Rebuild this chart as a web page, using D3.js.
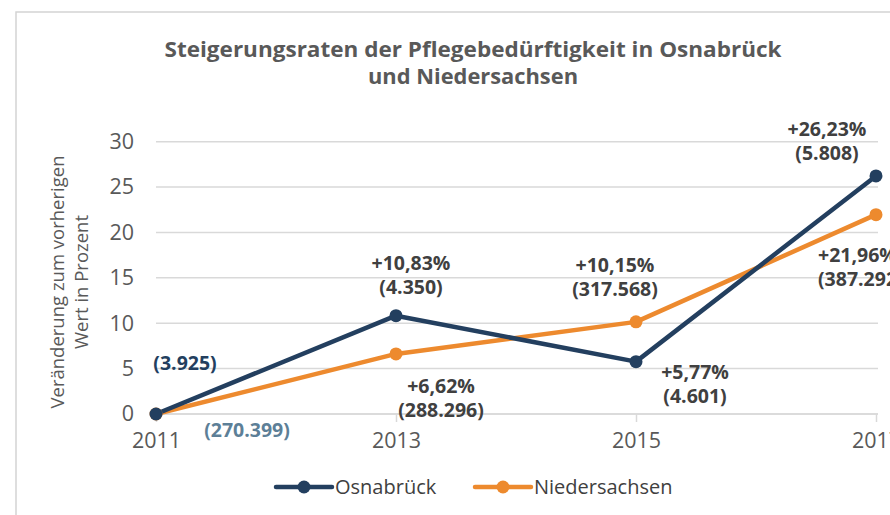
<!DOCTYPE html>
<html>
  <head>
    <title>Steigerungsraten der Pflegebedürftigkeit</title>
    <meta charset="utf-8">
    <style>
      body {
        margin: 0;
        background-color: white;
      }
      .axis text {
        font: 21.5px "Open Sans", sans-serif;
        fill: #595959;
      }
      .axis path,
      .axis line {
        fill: none;
        stroke: #d9d9d9;
        stroke-width: 1.5px;
      }
      .title {
        font: bold 22px "Open Sans", sans-serif;
        fill: #595959;
        text-anchor: middle;
      }
      .yLabel {
        font: 18.5px "Open Sans", sans-serif;
        fill: #595959;
        text-anchor: middle;
      }
      .dataLabel {
        font: bold 19.5px "Open Sans", sans-serif;
        fill: #404040;
      }
      .legendText {
        font: 20px "Open Sans", sans-serif;
        fill: #404040;
      }
    </style>
  </head>
  <body>
  <svg class="graph"></svg>
  <script src="https://d3js.org/d3.v7.min.js"></script>
  <script>
    // data
    var years = ["2011", "2013", "2015", "2017"];
    var osnabrueck = [0, 10.83, 5.77, 26.23];
    var niedersachsen = [0, 6.62, 10.15, 21.96];
    var osnabrueckLabels = [["(3.925)"], ["+10,83%", "(4.350)"], ["+5,77%", "(4.601)"], ["+26,23%", "(5.808)"]];
    var niedersachsenLabels = [["(270.399)"], ["+6,62%", "(288.296)"], ["+10,15%", "(317.568)"], ["+21,96%", "(387.292)"]];
    var yTicks = [0, 5, 10, 15, 20, 25, 30];
    var seriesNames = ["Osnabrück", "Niedersachsen"];

    var colors = {Osnabrück: "#233f5f", Niedersachsen: "#ed8a2e"};

    var width = 890, height = 515;
    var svg = d3.select("svg")
      .attr("width", width)
      .attr("height", height);

    // outer frame
    svg.append("rect")
      .attr("x", 16)
      .attr("y", 12)
      .attr("width", 900)
      .attr("height", 520)
      .attr("fill", "white")
      .attr("stroke", "#d4d4d4")
      .attr("stroke-width", 1.5);

    var x = d3.scalePoint()
      .domain(years)
      .range([156, 876]);

    var y = d3.scaleLinear()
      .domain([0, 30])
      .range([414, 141.7]);

    // gridlines
    svg.append("g")
      .selectAll("line")
      .data(yTicks)
      .enter().append("line")
      .attr("x1", 156)
      .attr("x2", 878)
      .attr("y1", function(d) { return y(d); })
      .attr("y2", function(d) { return y(d); })
      .attr("stroke", "#d9d9d9")
      .attr("stroke-width", 1.5);

    // y axis (labels only)
    var yAxis = d3.axisLeft(y)
      .tickValues(yTicks)
      .tickSize(0)
      .tickPadding(0);
    var yg = svg.append("g")
      .attr("class", "axis")
      .attr("transform", "translate(134,0)")
      .call(yAxis);
    yg.select(".domain").remove();

    // x axis
    var xAxis = d3.axisBottom(x)
      .tickSize(8)
      .tickPadding(11);
    var xg = svg.append("g")
      .attr("class", "axis")
      .attr("transform", "translate(0," + y(0) + ")")
      .call(xAxis);
    xg.select(".domain").attr("d", "M156,0H878");

    // y axis title
    svg.append("text")
      .attr("class", "yLabel")
      .attr("transform", "translate(64,282) rotate(-90)")
      .text("Veränderung zum vorherigen");
    svg.append("text")
      .attr("class", "yLabel")
      .attr("transform", "translate(88,282) rotate(-90)")
      .text("Wert in Prozent");

    // title
    svg.append("text")
      .attr("class", "title")
      .attr("x", 473)
      .attr("y", 57)
      .attr("textLength", 617)
      .attr("lengthAdjust", "spacingAndGlyphs")
      .text("Steigerungsraten der Pflegebedürftigkeit in Osnabrück");
    svg.append("text")
      .attr("class", "title")
      .attr("x", 473)
      .attr("y", 84)
      .attr("textLength", 210)
      .attr("lengthAdjust", "spacingAndGlyphs")
      .text("und Niedersachsen");

    var line = d3.line()
      .x(function(d, i) { return x(years[i]); })
      .y(function(d) { return y(d); });

    var series = [
      {name: "Niedersachsen", values: niedersachsen},
      {name: "Osnabrück", values: osnabrueck}
    ];

    series.forEach(function(s) {
      svg.append("path")
        .datum(s.values)
        .attr("d", line)
        .attr("fill", "none")
        .attr("stroke", colors[s.name])
        .attr("stroke-width", 4.5)
        .attr("stroke-linejoin", "round");
    });

    series.forEach(function(s) {
      svg.append("g")
        .selectAll("circle")
        .data(s.values)
        .enter().append("circle")
        .attr("cx", function(d, i) { return x(years[i]); })
        .attr("cy", function(d) { return y(d); })
        .attr("r", 6.5)
        .attr("fill", colors[s.name]);
    });

    // label placement relative to the point: [dx, dy of first line, anchor, colour]
    var osnPlace = [[29, -51, "middle", "#233f5f"], [15, -53, "middle"], [59, 10, "middle"], [-49, -47, "middle"]];
    var ndsPlace = [[91, 16, "middle", "#5d7f97"], [45, 32, "middle"], [-21, -57, "middle"], [-58, 40, "start"]];

    function drawLabels(values, labels, place) {
      values.forEach(function(v, i) {
        var p = place[i];
        var t = svg.append("text")
          .attr("class", "dataLabel")
          .attr("text-anchor", p[2])
          .style("fill", p[3] || "#404040");
        labels[i].forEach(function(str, j) {
          t.append("tspan")
            .attr("x", x(years[i]) + p[0])
            .attr("y", y(v) + p[1] + j * 24 + 7)
            .text(str);
        });
      });
    }
    drawLabels(osnabrueck, osnabrueckLabels, osnPlace);
    drawLabels(niedersachsen, niedersachsenLabels, ndsPlace);

    // legend
    var legendX = [276, 475];
    seriesNames.forEach(function(name, i) {
      var g = svg.append("g")
        .attr("transform", "translate(" + legendX[i] + ",487)");
      g.append("line")
        .attr("x1", 0).attr("x2", 56)
        .attr("stroke", colors[name])
        .attr("stroke-width", 4.5)
        .attr("stroke-linecap", "round");
      g.append("circle")
        .attr("cx", 28)
        .attr("r", 6.5)
        .attr("fill", colors[name]);
      g.append("text")
        .attr("class", "legendText")
        .attr("x", 59)
        .attr("y", 7)
        .text(name);
    });
  </script>
  </body>
</html>
